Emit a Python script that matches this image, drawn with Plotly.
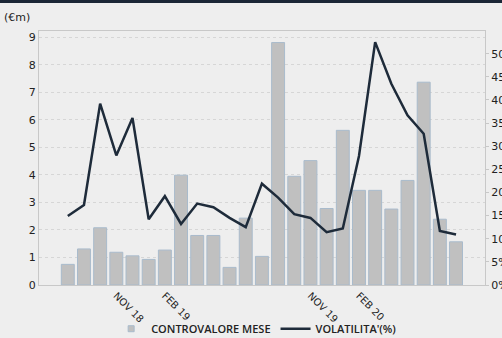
import plotly.graph_objects as go

# Monthly categories, Aug 2018 - Aug 2020
months = ["AGO 18", "SET 18", "OTT 18", "NOV 18", "DIC 18", "GEN 19", "FEB 19",
          "MAR 19", "APR 19", "MAG 19", "GIU 19", "LUG 19", "AGO 19", "SET 19",
          "OTT 19", "NOV 19", "DIC 19", "GEN 20", "FEB 20", "MAR 20", "APR 20",
          "MAG 20", "GIU 20", "LUG 20", "AGO 20"]

# Monthly traded value (€m)
controvalore = [0.75, 1.31, 2.08, 1.19, 1.06, 0.93, 1.27, 3.99, 1.80, 1.80,
                0.64, 2.43, 1.04, 8.81, 3.95, 4.52, 2.78, 5.62, 3.44, 3.44,
                2.76, 3.80, 7.37, 2.39, 1.57]

# Volatility (%)
volatilita = [14.9, 17.3, 39.2, 28.0, 36.1, 14.2, 19.2, 13.2, 17.6, 16.8,
              14.5, 12.5, 21.9, 18.9, 15.3, 14.5, 11.4, 12.2, 27.9, 52.5,
              43.5, 36.7, 32.7, 11.7, 10.9]

tick_months = ["NOV 18", "FEB 19", "NOV 19", "FEB 20"]
left_ticks = list(range(0, 10))
right_ticks = list(range(0, 55, 5))

bg = "#eeeeee"
bar_fill = "#c0c0c0"
font_family = "DejaVu Sans"

fig = go.Figure()
fig.add_trace(go.Bar(
    x=months, y=controvalore, name="CONTROVALORE MESE", showlegend=False,
    marker=dict(color=bar_fill, line=dict(color="#a9bbcc", width=1)),
    width=0.8, yaxis="y",
))
# small square legend key for the bars
fig.add_trace(go.Scatter(
    x=[None], y=[None], name="CONTROVALORE MESE", mode="markers",
    marker=dict(symbol="square", size=6, color=bar_fill,
                line=dict(color="#a9bbcc", width=1)),
))
fig.add_trace(go.Scatter(
    x=months, y=volatilita, name="VOLATILITA'(%)", mode="lines",
    line=dict(color="#1e2b3a", width=2.5), yaxis="y2",
))

fig.update_layout(
    width=502, height=338,
    margin=dict(l=39, r=17, t=31, b=53, autoexpand=False),
    paper_bgcolor=bg, plot_bgcolor=bg,
    font=dict(family=font_family, size=10, color="#222222"),
    showlegend=True,
    legend=dict(orientation="h", x=0.488, xanchor="center", y=-0.115, yanchor="top",
                font=dict(family="Open Sans", size=11, color="#222222", weight=600),
                itemwidth=30, tracegroupgap=0, bgcolor="rgba(0,0,0,0)"),
    xaxis=dict(
        type="category", range=[-1.78, 25.79], automargin=False,
        tickmode="array", tickvals=tick_months, ticktext=tick_months,
        tickangle=45, ticks="", showgrid=False,
        showline=True, linecolor="#c8c8c8", linewidth=1, mirror=True,
        tickfont=dict(size=10, color="#222222"),
    ),
    yaxis=dict(
        range=[0, 9.23], tickvals=left_ticks, ticks="", automargin=False,
        showgrid=True, gridcolor="#d6d6d6", griddash="dot", gridwidth=1,
        showline=True, linecolor="#c8c8c8", linewidth=1,
        zeroline=False, tickfont=dict(size=11, color="#222222"),
    ),
    yaxis2=dict(
        overlaying="y", side="right", range=[0, 54.9], automargin=False,
        tickvals=right_ticks, ticktext=[f"{v}%" for v in right_ticks],
        ticks="outside", ticklen=3, tickcolor="#c8c8c8",
        showgrid=False, zeroline=False,
        showline=True, linecolor="#c8c8c8", linewidth=1,
        tickfont=dict(size=11, color="#222222"),
    ),
    shapes=[dict(type="rect", xref="paper", yref="paper",
                 x0=-0.2, x1=1.2, y0=1.11, y1=1.3,
                 fillcolor="#1b2636", line=dict(width=0), layer="above")],
    annotations=[dict(text="(€m)", xref="paper", yref="paper",
                      x=-0.083, y=1.055, xanchor="left", yanchor="middle",
                      showarrow=False, font=dict(size=11, color="#222222"))],
)

fig.write_html("out.html")
